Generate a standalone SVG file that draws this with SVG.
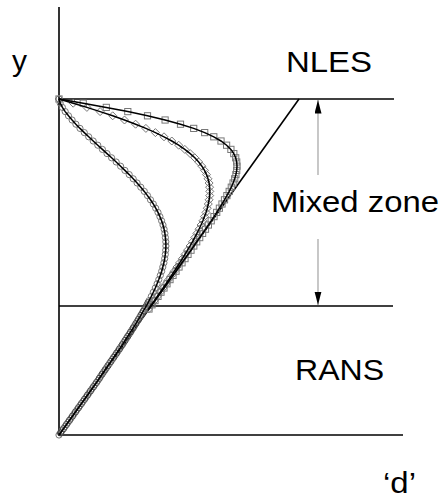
<svg xmlns="http://www.w3.org/2000/svg" xmlns:xlink="http://www.w3.org/1999/xlink" width="441" height="500" viewBox="0 0 441 500">
<style>
.ax{stroke:#000;stroke-width:1.6;fill:none}
.ln{stroke:#000;stroke-width:1.5;fill:none}
.arr{stroke:#9a9a9a;stroke-width:1.1;fill:none;marker-end:url(#ah)}
.mc{stroke:none;fill:none;marker-start:url(#mcirc);marker-mid:url(#mcirc);marker-end:url(#mcirc)}
.mcd{stroke:none;fill:none;marker-start:url(#mcircd);marker-mid:url(#mcircd);marker-end:url(#mcircd)}
.md{stroke:none;fill:none;marker-start:url(#mdiam);marker-mid:url(#mdiam);marker-end:url(#mdiam)}
.ms{stroke:none;fill:none;marker-start:url(#msq);marker-mid:url(#msq);marker-end:url(#msq)}
.lbl{font-family:"Liberation Sans",Arial,sans-serif;font-size:30px;fill:#000}
</style>
<defs>
<marker id="ah" markerUnits="userSpaceOnUse" markerWidth="14" markerHeight="8" refX="13.5" refY="3.5" orient="auto"><path d="M0,0 L13.5,3.5 L0,7 Z" fill="#000"/></marker>
<marker id="mcirc" markerUnits="userSpaceOnUse" markerWidth="10" markerHeight="10" refX="5" refY="5" orient="0" overflow="visible"><circle cx="5" cy="5" r="3.1" fill="none" stroke="#777" stroke-width="1"/></marker>
<marker id="mcircd" markerUnits="userSpaceOnUse" markerWidth="10" markerHeight="10" refX="5" refY="5" orient="0" overflow="visible"><circle cx="5" cy="5" r="3.1" fill="none" stroke="#444" stroke-width="1"/></marker>
<marker id="mdiam" markerUnits="userSpaceOnUse" markerWidth="10" markerHeight="10" refX="5" refY="5" orient="0" overflow="visible"><path d="M5,1 L9,5 L5,9 L1,5 Z" fill="none" stroke="#777" stroke-width="1"/></marker>
<marker id="msq" markerUnits="userSpaceOnUse" markerWidth="10" markerHeight="10" refX="5" refY="5" orient="0" overflow="visible"><rect x="1.9" y="1.9" width="6.2" height="6.2" fill="none" stroke="#777" stroke-width="1"/></marker>
<polyline id="c1" points="59,99 60.2,103.2 62.4,107.4 65.2,111.6 68.5,115.8 72.1,120 75.9,124.2 80,128.4 84.3,132.6 88.7,136.8 93.2,141 97.8,145.2 102.4,149.4 107,153.6 111.6,157.8 116.2,162 120.6,166.2 124.9,170.4 129.2,174.6 133.2,178.8 137.1,183 140.8,187.2 144.3,191.4 147.5,195.6 150.5,199.8 153.3,204 155.7,208.2 158,212.4 159.9,216.6 161.6,220.8 163,225 164.1,229.2 164.9,233.4 165.4,237.6 165.8,241.8 165.9,246 165.7,250.2 165.3,254.4 164.7,258.6 163.9,262.8 162.8,267 161.7,271.2 160.3,275.4 158.8,279.6 157.1,283.8 155.3,288 153.3,292.2 151.3,296.4 149.1,300.6 146.9,304.8 144.5,309 142.1,313.2 139.7,317.4 137.1,321.6 134.5,325.8 131.9,330 129.2,334.2 126.4,338.4 123.7,342.6 120.9,346.8 118.1,351 115.2,355.2 112.3,359.4 109.4,363.6 106.5,367.8 103.6,372 100.7,376.2 98,380.4 95,384.6 92,388.8 89,393 86,397.2 83,401.4 80,405.6 77,409.8 74,414 71,418.2 68,422.4 65,426.6 62,430.8 59,435"/>
<polyline id="c1low" points="148,302.7 145.7,306.9 143.3,311.1 140.9,315.3 138.4,319.5 135.8,323.7 133.2,327.9 130.55,332.1 127.8,336.3 125.05,340.5 122.3,344.7 119.5,348.9 116.65,353.1 113.75,357.3 110.85,361.5 107.95,365.7 105.05,369.9 102.15,374.1 99.35,378.3 96.5,382.5 93.5,386.7 90.5,390.9 87.5,395.1 84.5,399.3 81.5,403.5 78.5,407.7 75.5,411.9 72.5,416.1 69.5,420.3 66.5,424.5 63.5,428.7 60.5,432.9"/>
<polyline id="c2" points="59,99 73.2,103.2 86.9,107.4 100.1,111.6 112.7,115.8 124.5,120 135.6,124.2 145.9,128.4 155.4,132.6 164,136.8 171.8,141 178.7,145.2 184.8,149.4 190.2,153.6 194.8,157.8 198.7,162 201.9,166.2 204.5,170.4 206.5,174.6 208,178.8 209.1,183 209.6,187.2 209.8,191.4 209.7,195.6 209.1,199.8 208.3,204 207.3,208.2 206,212.4 204.5,216.6 202.9,220.8 201,225 199,229.2 196.9,233.4 194.7,237.6 192.4,241.8 190,246 187.5,250.2 185,254.4 182.4,258.6 179.7,262.8 177,267 174.3,271.2 171.5,275.4 168.7,279.6 165.9,283.8 163.1,288 160.2,292.2 157.3,296.4 154.4,300.6 151.5,304.8 148.6,309"/>
<polyline id="c3" points="59,99 83.2,103.2 106.3,107.4 127.8,111.6 147.5,115.8 165.1,120 180.5,124.2 193.7,128.4 204.7,132.6 213.8,136.8 221,141 226.6,145.2 230.9,149.4 233.8,153.6 235.7,157.8 236.7,162 237,166.2 236.7,170.4 235.9,174.6 234.7,178.8 233.1,183 231.3,187.2 229.2,191.4 226.9,195.6 224.5,199.8 222,204 219.4,208.2 216.7,212.4 214,216.6 211.2,220.8 208.4,225 205.5,229.2 202.6,233.4 199.7,237.6 196.7,241.8 193.8,246 191,250.2 188,254.4 185,258.6 182,262.8 179,267 176,271.2 173,275.4 170,279.6 167,283.8 164,288 161,292.2 158,296.4 155,300.6 152,304.8 149,309"/>
</defs>
<g id="axes">
<line class="ax" x1="59" y1="7" x2="59" y2="436"/>
<line class="ax" x1="59" y1="99" x2="394" y2="99"/>
<line class="ax" x1="59" y1="306" x2="393" y2="306"/>
<line class="ax" x1="59" y1="435" x2="403" y2="435"/>
<line class="ax" x1="59" y1="435" x2="299" y2="99"/>
</g>
<g id="curves">
<use xlink:href="#c1" href="#c1" class="mc"/>
<use xlink:href="#c1low" href="#c1low" class="mcd"/>
<use xlink:href="#c2" href="#c2" class="md"/>
<use xlink:href="#c3" href="#c3" class="ms"/>
<use xlink:href="#c1" href="#c1" class="ln"/>
<use xlink:href="#c2" href="#c2" class="ln"/>
<use xlink:href="#c3" href="#c3" class="ln"/>
</g>
<g id="connectors">
<line class="arr" x1="318" y1="175" x2="318" y2="100"/>
<line class="arr" x1="318" y1="239" x2="318" y2="305"/>
</g>
<g id="label-y"><text class="lbl" x="12" y="71">y</text></g>
<g id="label-nles"><text class="lbl" x="286" y="72" textLength="86" lengthAdjust="spacingAndGlyphs">NLES</text></g>
<g id="label-mixed"><text class="lbl" x="271" y="212" textLength="168" lengthAdjust="spacingAndGlyphs">Mixed zone</text></g>
<g id="label-rans"><text class="lbl" x="295" y="380" textLength="89" lengthAdjust="spacingAndGlyphs">RANS</text></g>
<g id="label-d"><text class="lbl" x="383" y="493" textLength="33" lengthAdjust="spacingAndGlyphs">‘d’</text></g>
</svg>
